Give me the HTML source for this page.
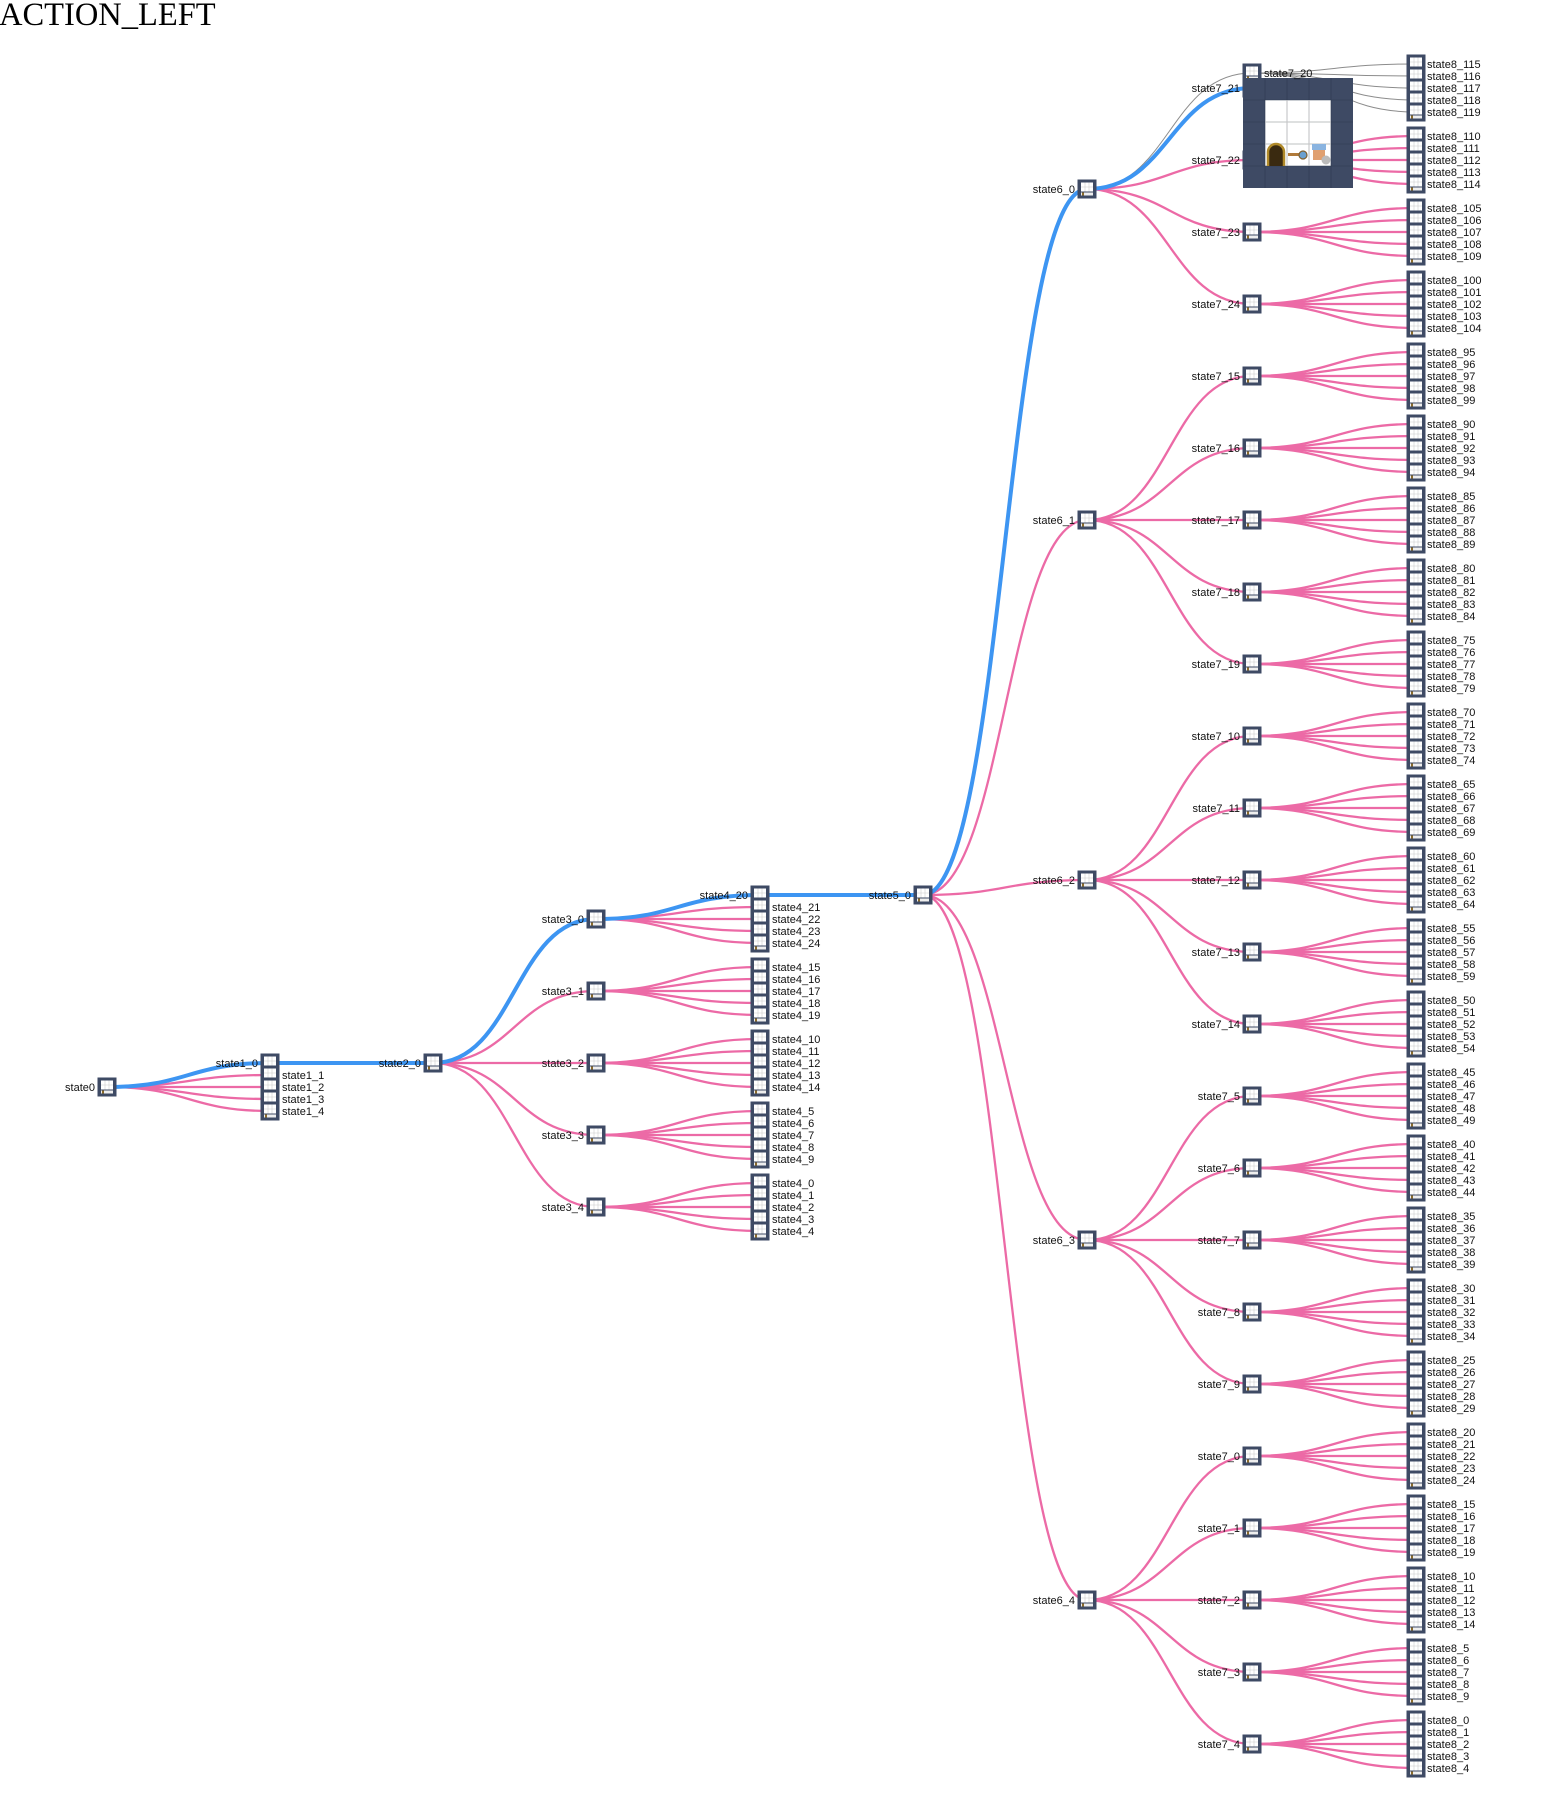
<!DOCTYPE html>
<html><head><meta charset="utf-8"><style>
html,body{margin:0;padding:0;background:#fff;width:1542px;height:1820px;overflow:hidden}
svg{display:block}
text{font-family:"Liberation Sans",sans-serif;font-size:11px;fill:#111}
.l{text-anchor:end}
</style></head><body>
<svg id="s" width="1542" height="1820" viewBox="0 0 1542 1820" xmlns="http://www.w3.org/2000/svg">
<defs>
<g id="n"><rect x="-9.5" y="-9.5" width="19" height="19" fill="#3e4a64"/><rect x="-6" y="-6.5" width="12" height="9" fill="#fff"/><path d="M-2-6.5v9M2-6.5v9M-6-2h12" stroke="#ccc" stroke-width="0.6"/><rect x="-6" y="3.5" width="12" height="3" fill="#eee"/><rect x="-5" y="3.5" width="2" height="3" fill="#8a6a2a"/></g>
</defs>
<text x="-1" y="25" style="font-family:'Liberation Serif',serif;font-size:32.5px;fill:#000">ACTION_LEFT</text>
<g id="edges" fill="none"></g>
<g id="nodes"></g>
<g id="img">
<rect x="1243" y="78" width="110" height="110" fill="#3e4a64"/>
<rect x="1265" y="100" width="66" height="66" fill="#fff"/>
<path d="M1265 78v110M1287 78v110M1309 78v110M1331 78v110M1243 100h110M1243 122h110M1243 144h110M1243 166h110" stroke="#2f3a50" stroke-width="0.6"/>
<path d="M1287 100v66M1309 100v66M1265 122h66M1265 144h66" stroke="#ccc" stroke-width="0.8"/>
<path d="M1268 166v-14a8 8 0 0 1 16 0v14" fill="#3a2a10" stroke="#b08a2a" stroke-width="2.5"/>
<rect x="1288" y="153" width="14" height="3" fill="#b07a3a"/><circle cx="1303" cy="155" r="4" fill="#6aa0d0" stroke="#806030" stroke-width="1.2"/>
<rect x="1313" y="148" width="12" height="12" fill="#e0a070"/><rect x="1312" y="144" width="14" height="6" fill="#8ab4e0"/><circle cx="1326" cy="160" r="4.5" fill="#bbb"/>
</g>
<g id="labels">
<text class="l" x="95" y="1091">state0</text>
<text class="l" x="258" y="1067">state1_0</text>
<text x="282" y="1079">state1_1</text><text x="282" y="1091">state1_2</text><text x="282" y="1103">state1_3</text><text x="282" y="1115">state1_4</text>
<text class="l" x="421" y="1067">state2_0</text>
<text class="l" x="584" y="923">state3_0</text><text class="l" x="584" y="995">state3_1</text><text class="l" x="584" y="1067">state3_2</text><text class="l" x="584" y="1139">state3_3</text><text class="l" x="584" y="1211">state3_4</text>
<text class="l" x="748" y="899">state4_20</text>
<text x="772" y="911">state4_21</text><text x="772" y="923">state4_22</text><text x="772" y="935">state4_23</text><text x="772" y="947">state4_24</text>
<text x="772" y="971"><tspan x="772">state4_15</tspan><tspan x="772" dy="12">state4_16</tspan><tspan x="772" dy="12">state4_17</tspan><tspan x="772" dy="12">state4_18</tspan><tspan x="772" dy="12">state4_19</tspan></text>
<text x="772" y="1043"><tspan x="772">state4_10</tspan><tspan x="772" dy="12">state4_11</tspan><tspan x="772" dy="12">state4_12</tspan><tspan x="772" dy="12">state4_13</tspan><tspan x="772" dy="12">state4_14</tspan></text>
<text x="772" y="1115"><tspan x="772">state4_5</tspan><tspan x="772" dy="12">state4_6</tspan><tspan x="772" dy="12">state4_7</tspan><tspan x="772" dy="12">state4_8</tspan><tspan x="772" dy="12">state4_9</tspan></text>
<text x="772" y="1187"><tspan x="772">state4_0</tspan><tspan x="772" dy="12">state4_1</tspan><tspan x="772" dy="12">state4_2</tspan><tspan x="772" dy="12">state4_3</tspan><tspan x="772" dy="12">state4_4</tspan></text>
<text class="l" x="911" y="899">state5_0</text>
<text class="l" x="1075" y="193">state6_0</text><text class="l" x="1075" y="524">state6_1</text><text class="l" x="1075" y="884">state6_2</text><text class="l" x="1075" y="1244">state6_3</text><text class="l" x="1075" y="1604">state6_4</text>
<text x="1264" y="77">state7_20</text>
<text class="l" x="1240" y="92">state7_21</text><text class="l" x="1240" y="164">state7_22</text><text class="l" x="1240" y="236">state7_23</text><text class="l" x="1240" y="308">state7_24</text>
<text class="l" x="1240" y="380">state7_15</text><text class="l" x="1240" y="452">state7_16</text><text class="l" x="1240" y="524">state7_17</text><text class="l" x="1240" y="596">state7_18</text><text class="l" x="1240" y="668">state7_19</text>
<text class="l" x="1240" y="740">state7_10</text><text class="l" x="1240" y="812">state7_11</text><text class="l" x="1240" y="884">state7_12</text><text class="l" x="1240" y="956">state7_13</text><text class="l" x="1240" y="1028">state7_14</text>
<text class="l" x="1240" y="1100">state7_5</text><text class="l" x="1240" y="1172">state7_6</text><text class="l" x="1240" y="1244">state7_7</text><text class="l" x="1240" y="1316">state7_8</text><text class="l" x="1240" y="1388">state7_9</text>
<text class="l" x="1240" y="1460">state7_0</text><text class="l" x="1240" y="1532">state7_1</text><text class="l" x="1240" y="1604">state7_2</text><text class="l" x="1240" y="1676">state7_3</text><text class="l" x="1240" y="1748">state7_4</text>
<text y="68"><tspan x="1427">state8_115</tspan><tspan x="1427" dy="12">state8_116</tspan><tspan x="1427" dy="12">state8_117</tspan><tspan x="1427" dy="12">state8_118</tspan><tspan x="1427" dy="12">state8_119</tspan></text>
<text y="140"><tspan x="1427">state8_110</tspan><tspan x="1427" dy="12">state8_111</tspan><tspan x="1427" dy="12">state8_112</tspan><tspan x="1427" dy="12">state8_113</tspan><tspan x="1427" dy="12">state8_114</tspan></text>
<text y="212"><tspan x="1427">state8_105</tspan><tspan x="1427" dy="12">state8_106</tspan><tspan x="1427" dy="12">state8_107</tspan><tspan x="1427" dy="12">state8_108</tspan><tspan x="1427" dy="12">state8_109</tspan></text>
<text y="284"><tspan x="1427">state8_100</tspan><tspan x="1427" dy="12">state8_101</tspan><tspan x="1427" dy="12">state8_102</tspan><tspan x="1427" dy="12">state8_103</tspan><tspan x="1427" dy="12">state8_104</tspan></text>
<text y="356"><tspan x="1427">state8_95</tspan><tspan x="1427" dy="12">state8_96</tspan><tspan x="1427" dy="12">state8_97</tspan><tspan x="1427" dy="12">state8_98</tspan><tspan x="1427" dy="12">state8_99</tspan></text>
<text y="428"><tspan x="1427">state8_90</tspan><tspan x="1427" dy="12">state8_91</tspan><tspan x="1427" dy="12">state8_92</tspan><tspan x="1427" dy="12">state8_93</tspan><tspan x="1427" dy="12">state8_94</tspan></text>
<text y="500"><tspan x="1427">state8_85</tspan><tspan x="1427" dy="12">state8_86</tspan><tspan x="1427" dy="12">state8_87</tspan><tspan x="1427" dy="12">state8_88</tspan><tspan x="1427" dy="12">state8_89</tspan></text>
<text y="572"><tspan x="1427">state8_80</tspan><tspan x="1427" dy="12">state8_81</tspan><tspan x="1427" dy="12">state8_82</tspan><tspan x="1427" dy="12">state8_83</tspan><tspan x="1427" dy="12">state8_84</tspan></text>
<text y="644"><tspan x="1427">state8_75</tspan><tspan x="1427" dy="12">state8_76</tspan><tspan x="1427" dy="12">state8_77</tspan><tspan x="1427" dy="12">state8_78</tspan><tspan x="1427" dy="12">state8_79</tspan></text>
<text y="716"><tspan x="1427">state8_70</tspan><tspan x="1427" dy="12">state8_71</tspan><tspan x="1427" dy="12">state8_72</tspan><tspan x="1427" dy="12">state8_73</tspan><tspan x="1427" dy="12">state8_74</tspan></text>
<text y="788"><tspan x="1427">state8_65</tspan><tspan x="1427" dy="12">state8_66</tspan><tspan x="1427" dy="12">state8_67</tspan><tspan x="1427" dy="12">state8_68</tspan><tspan x="1427" dy="12">state8_69</tspan></text>
<text y="860"><tspan x="1427">state8_60</tspan><tspan x="1427" dy="12">state8_61</tspan><tspan x="1427" dy="12">state8_62</tspan><tspan x="1427" dy="12">state8_63</tspan><tspan x="1427" dy="12">state8_64</tspan></text>
<text y="932"><tspan x="1427">state8_55</tspan><tspan x="1427" dy="12">state8_56</tspan><tspan x="1427" dy="12">state8_57</tspan><tspan x="1427" dy="12">state8_58</tspan><tspan x="1427" dy="12">state8_59</tspan></text>
<text y="1004"><tspan x="1427">state8_50</tspan><tspan x="1427" dy="12">state8_51</tspan><tspan x="1427" dy="12">state8_52</tspan><tspan x="1427" dy="12">state8_53</tspan><tspan x="1427" dy="12">state8_54</tspan></text>
<text y="1076"><tspan x="1427">state8_45</tspan><tspan x="1427" dy="12">state8_46</tspan><tspan x="1427" dy="12">state8_47</tspan><tspan x="1427" dy="12">state8_48</tspan><tspan x="1427" dy="12">state8_49</tspan></text>
<text y="1148"><tspan x="1427">state8_40</tspan><tspan x="1427" dy="12">state8_41</tspan><tspan x="1427" dy="12">state8_42</tspan><tspan x="1427" dy="12">state8_43</tspan><tspan x="1427" dy="12">state8_44</tspan></text>
<text y="1220"><tspan x="1427">state8_35</tspan><tspan x="1427" dy="12">state8_36</tspan><tspan x="1427" dy="12">state8_37</tspan><tspan x="1427" dy="12">state8_38</tspan><tspan x="1427" dy="12">state8_39</tspan></text>
<text y="1292"><tspan x="1427">state8_30</tspan><tspan x="1427" dy="12">state8_31</tspan><tspan x="1427" dy="12">state8_32</tspan><tspan x="1427" dy="12">state8_33</tspan><tspan x="1427" dy="12">state8_34</tspan></text>
<text y="1364"><tspan x="1427">state8_25</tspan><tspan x="1427" dy="12">state8_26</tspan><tspan x="1427" dy="12">state8_27</tspan><tspan x="1427" dy="12">state8_28</tspan><tspan x="1427" dy="12">state8_29</tspan></text>
<text y="1436"><tspan x="1427">state8_20</tspan><tspan x="1427" dy="12">state8_21</tspan><tspan x="1427" dy="12">state8_22</tspan><tspan x="1427" dy="12">state8_23</tspan><tspan x="1427" dy="12">state8_24</tspan></text>
<text y="1508"><tspan x="1427">state8_15</tspan><tspan x="1427" dy="12">state8_16</tspan><tspan x="1427" dy="12">state8_17</tspan><tspan x="1427" dy="12">state8_18</tspan><tspan x="1427" dy="12">state8_19</tspan></text>
<text y="1580"><tspan x="1427">state8_10</tspan><tspan x="1427" dy="12">state8_11</tspan><tspan x="1427" dy="12">state8_12</tspan><tspan x="1427" dy="12">state8_13</tspan><tspan x="1427" dy="12">state8_14</tspan></text>
<text y="1652"><tspan x="1427">state8_5</tspan><tspan x="1427" dy="12">state8_6</tspan><tspan x="1427" dy="12">state8_7</tspan><tspan x="1427" dy="12">state8_8</tspan><tspan x="1427" dy="12">state8_9</tspan></text>
<text y="1724"><tspan x="1427">state8_0</tspan><tspan x="1427" dy="12">state8_1</tspan><tspan x="1427" dy="12">state8_2</tspan><tspan x="1427" dy="12">state8_3</tspan><tspan x="1427" dy="12">state8_4</tspan></text>
</g>
</svg>
<script>
(function(){
var NS="http://www.w3.org/2000/svg";
var E=document.getElementById("edges"),N=document.getElementById("nodes");
var pink=[],blue=[],gray=[],nodes=[];
function L(a,b,arr){arr.push([a,b]);}
var s0=[107,1087];nodes.push(s0);
var s1=[];for(var i=0;i<5;i++){s1.push([270,1063+12*i]);}
s1.forEach(function(p,i){nodes.push(p);L(s0,p,i==0?blue:pink);});
var s2=[433,1063];nodes.push(s2);L(s1[0],s2,blue);
var s3=[];for(i=0;i<5;i++){var p=[596,919+72*i];s3.push(p);nodes.push(p);L(s2,p,i==0?blue:pink);
 for(var j=0;j<5;j++){var q=[760,p[1]-24+12*j];nodes.push(q);L(p,q,(i==0&&j==0)?blue:pink);}}
var s5=[923,895];nodes.push(s5);L([760,895],s5,blue);
var s6y=[189,520,880,1240,1600];var s6=[];
s6y.forEach(function(y,i){var p=[1087,y];s6.push(p);nodes.push(p);L(s5,p,i==0?blue:pink);});
var x7=1252,x8=1416;
for(var g=0;g<24;g++){
 var y=88+72*g;var par=s6[g<4?0:Math.floor((g-4)/5)+1];
 var p=[x7,y];nodes.push(p);
 if(g==0){L(par,p,blue);var p20=[x7,73];nodes.push(p20);L(par,p20,gray);
  for(j=0;j<5;j++){var q=[x8,y-24+12*j];nodes.push(q);L(p20,q,gray);}
 } else {L(par,p,pink);
  for(j=0;j<5;j++){var q=[x8,y-24+12*j];nodes.push(q);L(p,q,pink);}}
}
function path(a,b,col,w){var m=(a[0]+b[0])/2;var e=document.createElementNS(NS,"path");
 e.setAttribute("d","M"+a[0]+","+a[1]+"C"+m+","+a[1]+" "+m+","+b[1]+" "+b[0]+","+b[1]);
 e.setAttribute("stroke",col);e.setAttribute("stroke-width",w);E.appendChild(e);}
gray.forEach(function(l){path(l[0],l[1],"#8c8c8c",1);});
pink.forEach(function(l){path(l[0],l[1],"#ec6aa6",2.3);});
blue.forEach(function(l){path(l[0],l[1],"#3d95f2",4);});
nodes.forEach(function(p){var u=document.createElementNS(NS,"use");u.setAttribute("href","#n");
 u.setAttribute("transform","translate("+p[0]+","+p[1]+")");N.appendChild(u);});
})();
</script>
</body></html>
